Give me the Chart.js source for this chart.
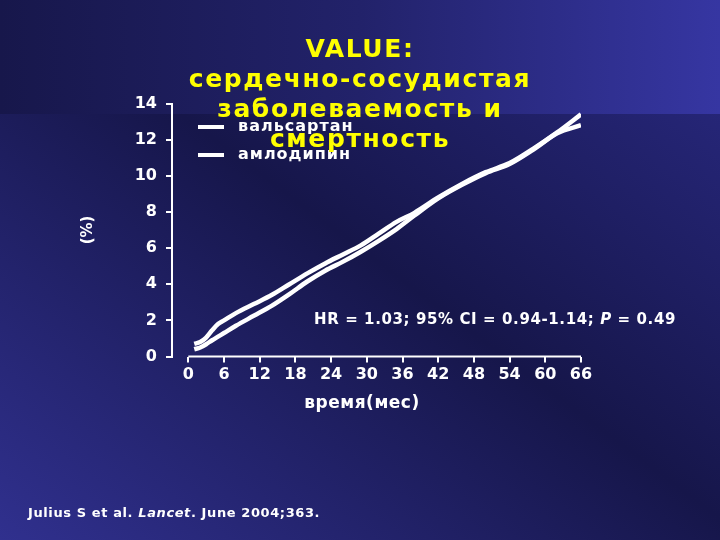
<!DOCTYPE html>
<html>
<head>
<meta charset="utf-8">
<script src="https://cdn.jsdelivr.net/npm/chart.js@4"></script>
<style>
html, body { margin: 0; padding: 0; }
body {
    width: 720px; height: 540px; position: relative; overflow: hidden;
    font-family: "DejaVu Sans", sans-serif;
    background: linear-gradient(to top right, #30308e 0%, #16164a 52%, #2a2a84 100%);
}
#band {
    position: absolute; left: 0; top: 0; width: 720px; height: 114px;
    background: linear-gradient(to right, #17174b 0%, #22226a 50%, #3636a2 100%);
}
#wrap { position: absolute; left: 0; top: 0; width: 720px; height: 540px; }
.txt { position: absolute; color: #fff; font-weight: bold; white-space: nowrap; }
#title {
    left: 0; top: 34px; width: 720px; text-align: center;
    color: #ffff00; font-size: 25px; line-height: 30px; letter-spacing: 1.6px;
}
#xtitle { left: 262px; width: 200px; text-align: center; top: 392px; font-size: 17px; letter-spacing: 0.5px; }
#note { left: 314px; top: 310px; font-size: 15px; letter-spacing: 0.6px; }
#foot { left: 28px; top: 505px; font-size: 13px; letter-spacing: 0.6px; }
</style>
</head>
<body>
<div id="band"></div>
<div id="wrap"><canvas id="valueChart" width="720" height="540"></canvas></div>
<div id="title" class="txt">VALUE:<br>сердечно-сосудистая<br>заболеваемость и<br>смертность</div>
<div id="xtitle" class="txt">время(мес)</div>
<div id="note" class="txt">HR = 1.03; 95% CI = 0.94-1.14; <i>P</i> = 0.49</div>
<div id="foot" class="txt">Julius S et al. <i>Lancet</i>. June 2004;363.</div>
<script>
const months = [1, 2, 3, 4, 5, 6, 8, 11, 14, 17, 20, 23, 26, 29, 32, 35, 38, 42, 46, 50, 54, 58, 62, 66];
const valsartan = [0.7, 0.8, 1.05, 1.45, 1.8, 2.0, 2.4, 2.9, 3.4, 4.0, 4.6, 5.15, 5.65, 6.15, 6.8, 7.45, 7.95, 8.8, 9.55, 10.2, 10.7, 11.5, 12.4, 13.4];
const amlodipine = [0.4, 0.5, 0.68, 0.9, 1.1, 1.3, 1.7, 2.25, 2.8, 3.45, 4.15, 4.75, 5.25, 5.8, 6.4, 7.05, 7.8, 8.75, 9.5, 10.15, 10.65, 11.45, 12.35, 12.8];
const seriesNames = ["вальсартан", "амлодипин"];
const xTicks = [0, 6, 12, 18, 24, 30, 36, 42, 48, 54, 60, 66];
const yTicks = [0, 2, 4, 6, 8, 10, 12, 14];

const toPoints = vals => months.map((m, i) => ({x: m, y: vals[i]}));

// x axis line only spans 0..66, y axis sits a bit to the left of it
const xAxisLine = {
    id: "xAxisLine",
    afterDraw(chart) {
        const {ctx, scales: {x, y}} = chart;
        const yy = y.getPixelForValue(0);
        ctx.save();
        ctx.strokeStyle = "#fff";
        ctx.lineWidth = 2;
        ctx.beginPath();
        ctx.moveTo(x.getPixelForValue(xTicks[0]), yy);
        ctx.lineTo(x.getPixelForValue(xTicks[xTicks.length - 1]), yy);
        ctx.stroke();
        ctx.restore();
    }
};

// legend drawn inside the plot, under the title
const innerLegend = {
    id: "innerLegend",
    afterDraw(chart) {
        const ctx = chart.ctx;
        ctx.save();
        ctx.font = "bold 16px 'DejaVu Sans'";
        ctx.letterSpacing = "1px";
        ctx.textBaseline = "middle";
        chart.data.datasets.forEach((ds, i) => {
            const yy = 127 + i * 28;
            ctx.strokeStyle = ds.borderColor;
            ctx.lineWidth = 4;
            ctx.beginPath();
            ctx.moveTo(198, yy);
            ctx.lineTo(224, yy);
            ctx.stroke();
            ctx.fillStyle = "#fff";
            ctx.fillText(ds.label, 238, yy);
        });
        ctx.restore();
    }
};

new Chart(document.getElementById("valueChart"), {
    type: "line",
    data: {
        datasets: [{
            label: seriesNames[0],
            data: toPoints(valsartan),
            borderColor: "#ffffff",
            borderWidth: 4.5,
            pointRadius: 0,
            cubicInterpolationMode: "monotone"
        }, {
            label: seriesNames[1],
            data: toPoints(amlodipine),
            borderColor: "#ffffff",
            borderWidth: 4.5,
            pointRadius: 0,
            cubicInterpolationMode: "monotone"
        }]
    },
    options: {
        responsive: false,
        animation: false,
        layout: { padding: { left: 70, right: 139, top: 103.5, bottom: 0 } },
        plugins: { legend: { display: false }, tooltip: { enabled: false } },
        scales: {
            x: {
                type: "linear",
                min: -2.74,
                max: 66,
                afterBuildTicks: s => { s.ticks = xTicks.map(v => ({value: v})); },
                afterFit: s => { s.height = 183.5; },
                border: { display: false },
                grid: { drawOnChartArea: false, color: "#fff", lineWidth: 2, tickLength: 6 },
                ticks: {
                    color: "#fff", font: { family: "DejaVu Sans", size: 16, weight: "bold" },
                    padding: 3, maxRotation: 0, autoSkip: false
                }
            },
            y: {
                min: 0,
                max: 14,
                afterBuildTicks: s => { s.ticks = yTicks.map(v => ({value: v})); },
                afterFit: s => { s.width = 102; },
                border: { display: true, color: "#fff", width: 2 },
                grid: { drawOnChartArea: false, color: "#fff", lineWidth: 2, tickLength: 6 },
                ticks: {
                    color: "#fff", font: { family: "DejaVu Sans", size: 16, weight: "bold" },
                    padding: 9
                },
                title: {
                    display: true, text: "(%)", color: "#fff",
                    font: { family: "DejaVu Sans", size: 15, weight: "bold" },
                    padding: { top: 9, bottom: 0 }
                }
            }
        }
    },
    plugins: [xAxisLine, innerLegend]
});
</script>
</body>
</html>
